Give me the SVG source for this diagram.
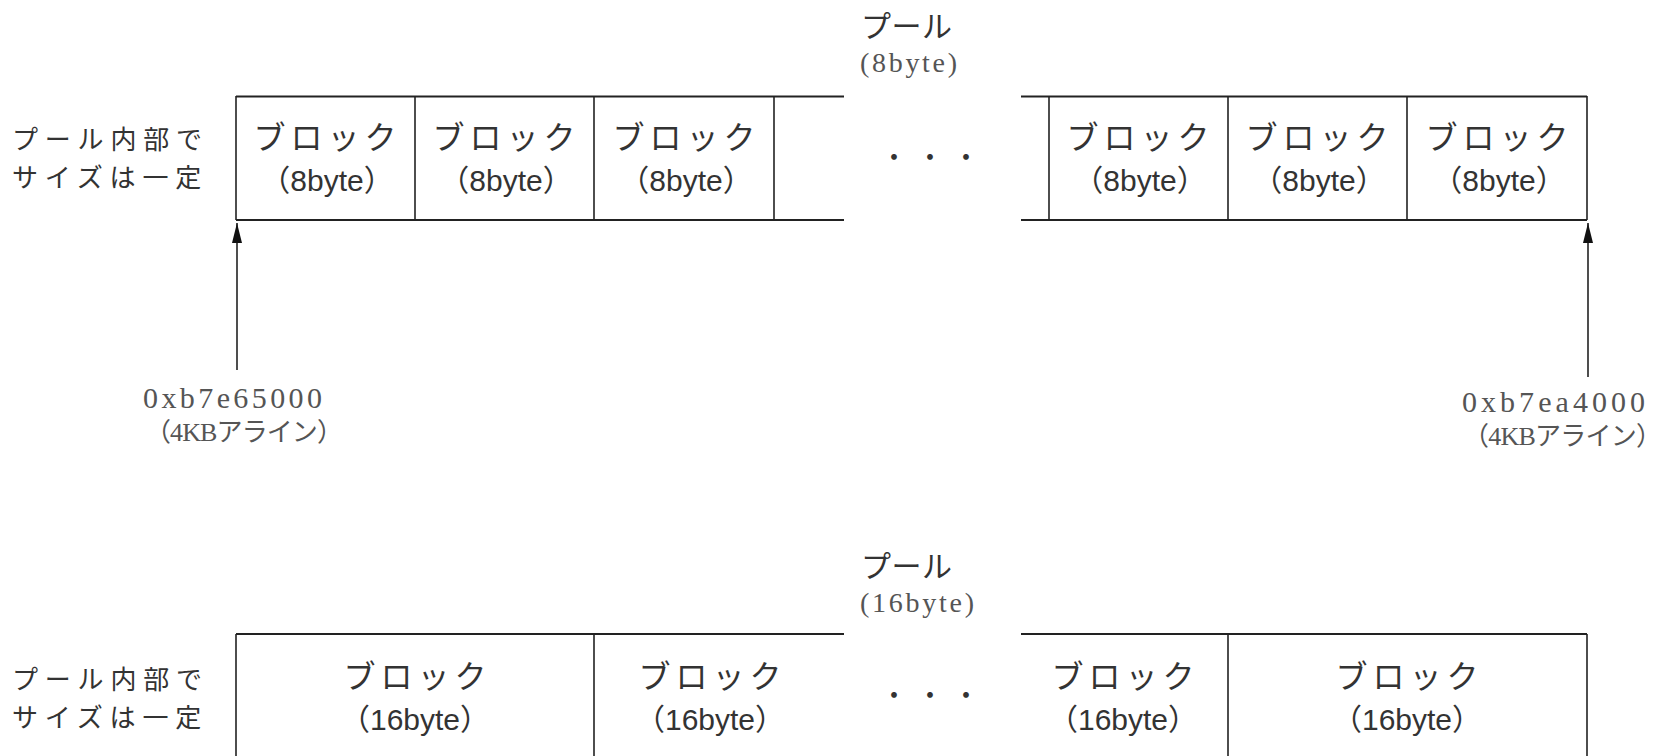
<svg xmlns="http://www.w3.org/2000/svg" width="1665" height="756" viewBox="0 0 1665 756">
<defs>
<style>
.jp{font-family:"Noto Sans CJK JP","Liberation Sans",sans-serif;font-size:26px;fill:#333;letter-spacing:6.8px;}
.blk{font-family:"Noto Sans CJK JP","Liberation Sans",sans-serif;font-size:32px;fill:#333;text-anchor:middle;}
.bb{font-family:"Liberation Sans","Noto Sans CJK JP",sans-serif;font-size:30px;fill:#333;text-anchor:middle;}
.ttl{font-family:"Noto Sans CJK JP",sans-serif;font-size:30px;fill:#333;}
.ser{font-family:"Liberation Serif","Noto Sans CJK JP",serif;font-size:28px;fill:#555;}
.adr{font-family:"Liberation Serif","Noto Sans CJK JP",serif;font-size:30px;fill:#555;}
.ser2{font-family:"Liberation Serif","Noto Sans CJK JP",serif;font-size:26px;fill:#555;}
.ln{stroke:#222;stroke-width:2;fill:none;}
.vl{stroke:#222;stroke-width:1.6;fill:none;}
.dots{font-family:"Noto Sans CJK JP",sans-serif;font-size:27px;fill:#333;letter-spacing:9px;}
</style>
<marker id="ah" viewBox="0 0 20 10" refX="20" refY="5" markerWidth="20" markerHeight="10" markerUnits="userSpaceOnUse" orient="auto">
<path d="M0,0 L20,5 L0,10 Z" fill="#111"/>
</marker>
</defs>

<g id="pool8">
<g id="pool8-title">
<text class="ttl" x="861" y="37" textLength="91">プール</text>
<text class="ser" x="860" y="72" textLength="97">(8byte)</text>
</g>
<g id="pool8-label">
<text class="jp" x="12" y="149">プール内部で</text>
<text class="jp" x="12" y="187">サイズは一定</text>
</g>
<g id="pool8-frame">
<path class="ln" d="M236,96.5 H844 M236,220 H844 M1021,96.5 H1587 M1021,220 H1587"/>
<path class="vl" d="M236,96 V220 M415,96 V220 M594,96 V220 M774,96 V220 M1049,96 V220 M1228,96 V220 M1407,96 V220 M1587,96 V220"/>
</g>
<g id="b8-1"><text class="blk" x="325" y="149" textLength="143">ブロック</text><text class="bb" x="327" y="191">（8byte）</text></g>
<g id="b8-2"><text class="blk" x="504" y="149" textLength="143">ブロック</text><text class="bb" x="506" y="191">（8byte）</text></g>
<g id="b8-3"><text class="blk" x="684" y="149" textLength="143">ブロック</text><text class="bb" x="686" y="191">（8byte）</text></g>
<text class="dots" x="880.5" y="167">・・・</text>
<g id="b8-4"><text class="blk" x="1138" y="149" textLength="143">ブロック</text><text class="bb" x="1140" y="191">（8byte）</text></g>
<g id="b8-5"><text class="blk" x="1317" y="149" textLength="143">ブロック</text><text class="bb" x="1319" y="191">（8byte）</text></g>
<g id="b8-6"><text class="blk" x="1497" y="149" textLength="143">ブロック</text><text class="bb" x="1499" y="191">（8byte）</text></g>
<g id="addr-start">
<text class="adr" x="143" y="408" textLength="179">0xb7e65000</text>
<text class="ser2" x="145" y="441" textLength="198">（4KBアライン）</text>
</g>
<g id="addr-end">
<text class="adr" x="1462" y="412" textLength="183">0xb7ea4000</text>
<text class="ser2" x="1463" y="445" textLength="199">（4KBアライン）</text>
</g>
</g>

<g id="pool16">
<g id="pool16-title">
<text class="ttl" x="861" y="577" textLength="91">プール</text>
<text class="ser" x="860" y="612" textLength="114">(16byte)</text>
</g>
<g id="pool16-label">
<text class="jp" x="12" y="689">プール内部で</text>
<text class="jp" x="12" y="727">サイズは一定</text>
</g>
<g id="pool16-frame">
<path class="ln" d="M236,634 H844 M1021,634 H1587"/>
<path class="vl" d="M236,634 V760 M594,634 V760 M1228,634 V760 M1587,634 V760"/>
</g>
<g id="b16-1"><text class="blk" x="415" y="688" textLength="143">ブロック</text><text class="bb" x="415" y="730">（16byte）</text></g>
<g id="b16-2"><text class="blk" x="710" y="688" textLength="143">ブロック</text><text class="bb" x="710" y="730">（16byte）</text></g>
<text class="dots" x="880.5" y="705">・・・</text>
<g id="b16-3"><text class="blk" x="1123" y="688" textLength="143">ブロック</text><text class="bb" x="1123" y="730">（16byte）</text></g>
<g id="b16-4"><text class="blk" x="1407" y="688" textLength="143">ブロック</text><text class="bb" x="1407" y="730">（16byte）</text></g>
</g>

<g id="connectors">
<line class="vl" x1="237" y1="370" x2="237" y2="223" marker-end="url(#ah)"/>
<line class="vl" x1="1588" y1="377" x2="1588" y2="223" marker-end="url(#ah)"/>
</g>
</svg>
